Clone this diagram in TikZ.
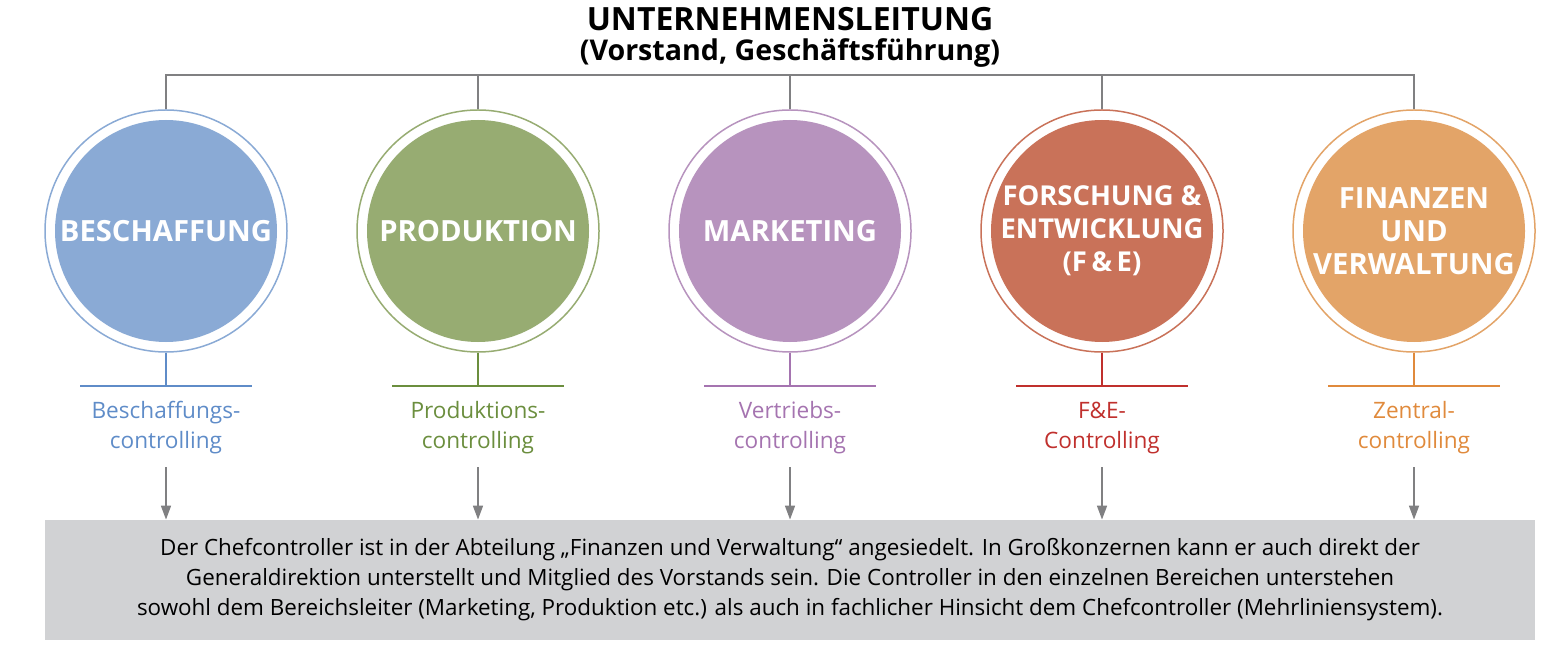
\documentclass[tikz,border=0pt]{standalone}
\usepackage{fontspec}
\setmainfont{Open Sans}
\usetikzlibrary{arrows.meta}
\definecolor{cB}{RGB}{138,170,213}\definecolor{tB}{RGB}{95,140,200}
\definecolor{cP}{RGB}{151,172,114}\definecolor{tP}{RGB}{107,142,62}
\definecolor{cM}{RGB}{183,147,190}\definecolor{tM}{RGB}{165,116,176}
\definecolor{cF}{RGB}{201,114,89}\definecolor{tF}{RGB}{192,48,45}
\definecolor{cZ}{RGB}{227,164,104}\definecolor{tZ}{RGB}{224,138,60}
\definecolor{linegray}{RGB}{128,128,130}
\definecolor{boxgray}{RGB}{209,210,212}
\tikzset{
  ring/.style={circle, draw=#1, line width=0.75pt, fill=white, minimum size=121pt, inner sep=0pt},
  disc/.style={circle, fill=#1, minimum size=111pt, inner sep=0pt, text=white, font=\bfseries\fontsize{14.6}{16.5}\selectfont, align=center},
  conn/.style={draw=linegray, line width=0.8pt},
  bar/.style={draw=#1, line width=0.7pt},
  lbl/.style={text=#1, font=\fontsize{11.3}{15}\selectfont, align=center, inner sep=0pt},
  arr/.style={draw=linegray, line width=0.8pt, -{Triangle[length=7pt,width=5pt]}},
}
\begin{document}
\begin{tikzpicture}[x=0.5pt,y=-0.5pt]
\useasboundingbox (0,0) rectangle (1566,662);
\node[font=\bfseries\fontsize{16}{20}\selectfont, inner sep=0pt] (title) at (790,19) {UNTERNEHMENSLEITUNG};
\node[font=\bfseries\fontsize{14.3}{16}\selectfont, inner sep=0pt] (sub) at (790,53) {(Vorstand, Geschäftsführung)};
\coordinate (top) at (790,75);
% circles
\foreach \n/\x/\c in {b/166/cB, p/478/cP, m/790/cM, f/1102/cF, z/1414/cZ}{
  \node[ring=\c] (\n-ring) at (\x,231) {};
}
\node[disc=cB] (b) at (166,231) {BESCHAFFUNG};
\node[disc=cP] (p) at (478,231) {PRODUKTION};
\node[disc=cM] (m) at (790,231) {MARKETING};
\node[disc=cF, font=\bfseries\fontsize{13.7}{16.5}\selectfont] (f) at (1102,231) {FORSCHUNG \&\\ENTWICKLUNG\\(F\,\&\,E)};
\node[disc=cZ] (z) at (1414,231) {FINANZEN\\UND\\VERWALTUNG};
% tree
\draw[conn] (b-ring.north) -- (b-ring.north |- top) -- (z-ring.north |- top) -- (z-ring.north);
\foreach \n in {p,m,f}{ \draw[conn] (\n-ring.north |- top) -- (\n-ring.north); }
% bars and labels
\foreach \n/\x/\c/\t in {b/166/tB/{Beschaffungs-\\controlling}, p/478/tP/{Produktions-\\controlling}, m/790/tM/{Vertriebs-\\controlling}, f/1102/tF/{F\&E-\\Controlling}, z/1414/tZ/{Zentral-\\controlling}}{
  \coordinate (\n-bar) at (\x,386);
  \coordinate (\n-barl) at (\x-86,386);
  \coordinate (\n-barr) at (\x+86,386);
  \draw[bar=\c] (\n-ring.south) -- (\n-bar);
  \draw[bar=\c] (\n-barl) -- (\n-barr);
  \node[lbl=\c] (\n-lbl) at (\x,428) {\t};
}
\node[fill=boxgray, minimum width=745pt, minimum height=60pt, inner sep=0pt, align=center,
  font=\fontsize{11.2}{15}\selectfont] (info) at (790,580)
  {Der Chefcontroller ist in der Abteilung „Finanzen und Verwaltung“ angesiedelt. In Großkonzernen kann er auch direkt der\\
   Generaldirektion unterstellt und Mitglied des Vorstands sein. Die Controller in den einzelnen Bereichen unterstehen\\
   sowohl dem Bereichsleiter (Marketing, Produktion etc.) als auch in fachlicher Hinsicht dem Chefcontroller (Mehrliniensystem).};
\foreach \n in {b,p,m,f,z}{
  \coordinate (\n-as) at (\n-bar |- 0,467);
  \draw[arr] (\n-as) -- (\n-as |- info.north);
}
\end{tikzpicture}
\end{document}
